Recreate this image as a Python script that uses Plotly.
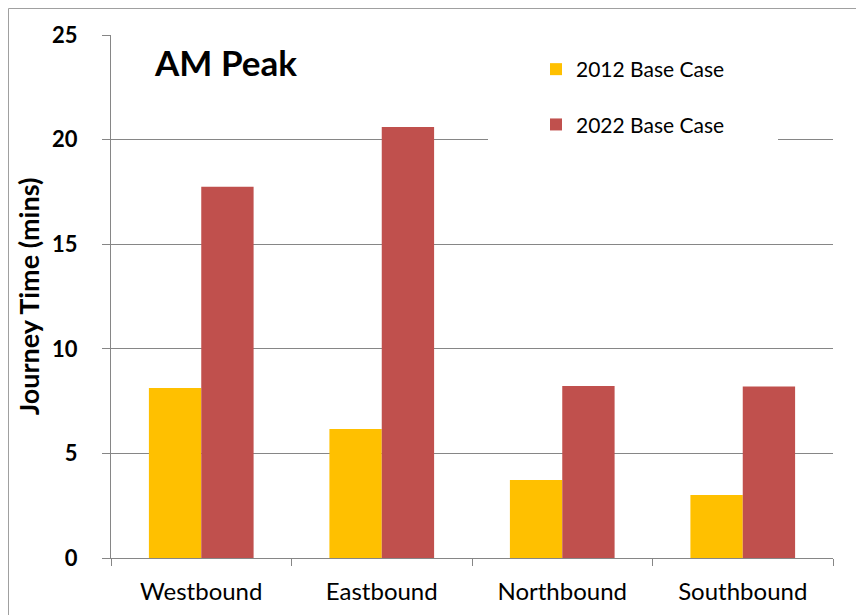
import plotly.graph_objects as go

categories = ["Westbound", "Eastbound", "Northbound", "Southbound"]
series_2012 = [8.13, 6.17, 3.73, 3.01]
series_2022 = [17.75, 20.6, 8.22, 8.2]
series_names = ["2012 Base Case", "2022 Base Case"]
y_ticks = [0, 5, 10, 15, 20, 25]

FONT = "Lato"
GRID = "#868686"

fig = go.Figure()
fig.add_trace(go.Bar(x=categories, y=series_2012, name=series_names[0],
                     marker=dict(color="#FFC000", line=dict(width=0)),
                     legendgroup="a"))
fig.add_trace(go.Bar(x=categories, y=series_2022, name=series_names[1],
                     marker=dict(color="#C0504D", line=dict(width=0)),
                     legendgroup="b"))

# page is rendered with an 8px body margin; compensate
OFF = 8
W, H = 864, 615
L, T = 111 - OFF, 35 - OFF
R = W - (833 - OFF)
B = H - (558 - OFF)
pw, ph = W - L - R, H - T - B


def px(x):
    return (x - OFF - L) / pw


def py(y):
    return (H - B - (y - OFF)) / ph


fig.update_layout(
    width=W, height=H,
    margin=dict(l=L, r=R, t=T, b=B, autoexpand=False),
    paper_bgcolor="white", plot_bgcolor="white",
    barmode="group", bargap=0.42, bargroupgap=0,
    font=dict(family=FONT, color="black"),
    showlegend=True,
    legend=dict(x=px(536), y=py(49), xanchor="left", yanchor="top",
                bgcolor="rgba(0,0,0,0)", font=dict(size=21, family=FONT),
                traceorder="grouped", tracegroupgap=25, itemclick=False,
                itemwidth=30),
    xaxis=dict(showline=True, linecolor=GRID, linewidth=1,
               ticks="outside", tickson="boundaries", ticklen=7, tickcolor=GRID,
               tickfont=dict(size=24, family=FONT), ticklabelstandoff=12,
               showgrid=False),
    yaxis=dict(range=[0, 25], tickvals=y_ticks, showline=True, linecolor=GRID,
               linewidth=1, ticks="outside", ticklen=8, tickcolor=GRID,
               tickfont=dict(size=22, family=FONT, weight="bold"),
               ticklabelstandoff=20,
               showgrid=True, gridcolor=GRID, gridwidth=1, zeroline=False,
               title=dict(text="Journey Time (mins)",
                          font=dict(size=27, family=FONT, weight="bold"),
                          standoff=4)),
    shapes=[
        dict(type="rect", xref="paper", yref="paper",
             x0=px(488), x1=px(778), y0=py(148), y1=py(42),
             fillcolor="white", line=dict(width=0), layer="above"),
        dict(type="rect", xref="paper", yref="paper",
             x0=(0.5 - L) / pw, x1=px(W + 30), y0=py(H + 30), y1=(H - B - 0.5) / ph,
             fillcolor="rgba(0,0,0,0)", line=dict(color="#A0A0A0", width=1),
             layer="above"),
    ],
    annotations=[
        dict(text="<b>AM Peak</b>", xref="paper", yref="paper",
             x=px(152), y=py(62), xanchor="left", yanchor="middle",
             showarrow=False, font=dict(size=35, family=FONT, color="black")),
    ],
)

fig.write_html("out.html")
